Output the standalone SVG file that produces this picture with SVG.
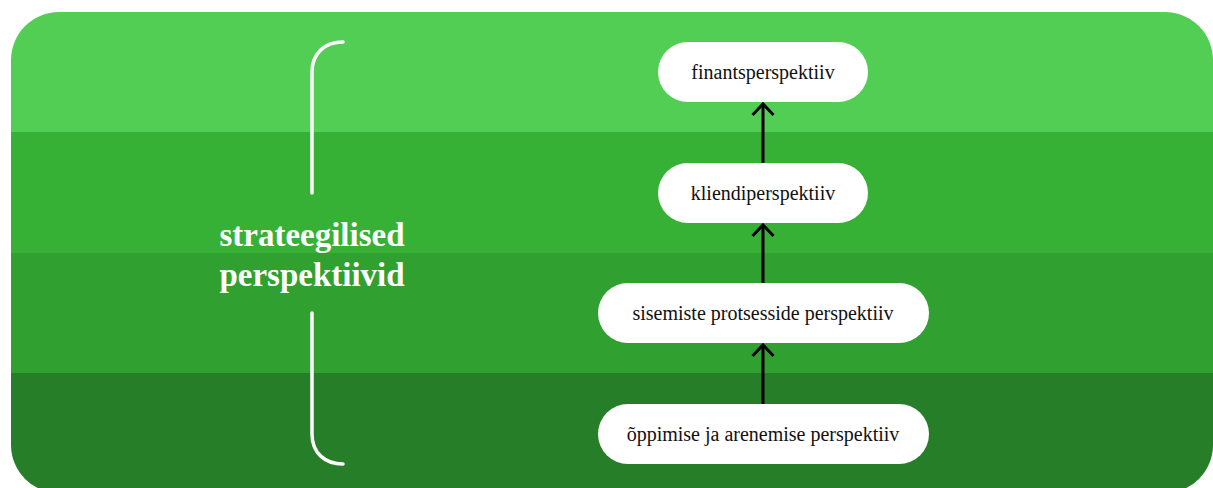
<svg xmlns="http://www.w3.org/2000/svg" width="1213" height="488" viewBox="0 0 1213 488">
<style>
.node rect{fill:#ffffff}
.node text{font-family:"Liberation Serif","Times New Roman",serif;font-size:20px;fill:#111111;text-anchor:middle}
.conn{stroke:#000000;stroke-width:3;fill:none}
.brace{stroke:#ffffff;stroke-width:3.5;fill:none;stroke-linecap:round}
.title{font-family:"Liberation Serif","Times New Roman",serif;font-size:33px;font-weight:bold;fill:#ffffff;text-anchor:middle}
</style>
<defs>
<clipPath id="bg"><rect x="11" y="12" width="1202" height="481" rx="48" ry="48"/></clipPath>
<marker id="arr" viewBox="0 0 24 24" refX="20" refY="12" markerWidth="24" markerHeight="24" markerUnits="userSpaceOnUse" orient="auto" overflow="visible">
<path d="M9,1.5 L20,12 L9,22.5" stroke="#000" stroke-width="3" fill="none"/>
</marker>
</defs>
<g id="background" clip-path="url(#bg)">
<rect x="0" y="0" width="1213" height="132" fill="#53CE55"/>
<rect x="0" y="132" width="1213" height="121" fill="#37B036"/>
<rect x="0" y="253" width="1213" height="120" fill="#30A030"/>
<rect x="0" y="373" width="1213" height="130" fill="#277E28"/>
</g>
<g id="brace">
<path class="brace" d="M343,42 C325,42 312,53 312,72 L312,193"/>
<path class="brace" d="M312,313 L312,434 C312,453 325,464 343,464"/>
<text class="title" x="312" y="246">strateegilised</text>
<text class="title" x="312" y="286">perspektiivid</text>
</g>
<g id="connectors">
<line class="conn" x1="763" y1="163" x2="763" y2="104" marker-end="url(#arr)"/>
<line class="conn" x1="763" y1="283" x2="763" y2="225" marker-end="url(#arr)"/>
<line class="conn" x1="763" y1="404" x2="763" y2="345" marker-end="url(#arr)"/>
</g>
<g id="n1" class="node"><rect x="658" y="42" width="210" height="60" rx="30"/><text x="763" y="79">finantsperspektiiv</text></g>
<g id="n2" class="node"><rect x="658" y="163" width="210" height="60" rx="30"/><text x="763" y="200">kliendiperspektiiv</text></g>
<g id="n3" class="node"><rect x="598" y="283" width="331" height="60" rx="30"/><text x="763" y="320">sisemiste protsesside perspektiiv</text></g>
<g id="n4" class="node"><rect x="598" y="404" width="331" height="60" rx="30"/><text x="763" y="441">õppimise ja arenemise perspektiiv</text></g>
</svg>
